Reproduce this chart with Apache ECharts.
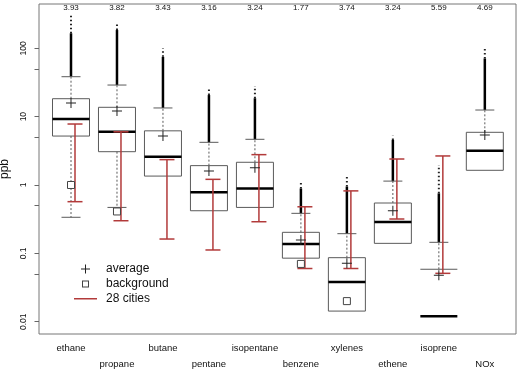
<!DOCTYPE html>
<html>
<head>
<meta charset="utf-8">
<script src="https://cdn.jsdelivr.net/npm/echarts@6/dist/echarts.min.js"></script>
<style>
  html, body { margin: 0; padding: 0; background: #fff; }
  #chart { width: 520px; height: 374px; }
</style>
</head>
<body>
<div id="chart"></div>
<script>
// species along the x axis
var categories = ['ethane', 'propane', 'butane', 'pentane', 'isopentane', 'benzene', 'xylenes', 'ethene', 'isoprene', 'NOx'];
// numbers printed along the top of the plot
var topValues = ['3.93', '3.82', '3.43', '3.16', '3.24', '1.77', '3.74', '3.24', '5.59', '4.69'];

// box statistics (ppb)
var q1 = [5.2, 3.07, 1.35, 0.42, 0.47, 0.085, 0.0143, 0.14, 0.012, 1.64];
var median = [9.2, 6.0, 2.6, 0.78, 0.89, 0.137, 0.038, 0.287, 0.012, 3.18];
var q3 = [18.3, 13.7, 6.2, 1.92, 2.15, 0.203, 0.0864, 0.545, 0.0585, 5.9];
var lowerWhisker = [0.337, 0.47, 1.35, 0.42, 0.47, 0.085, 0.0143, 0.14, 0.012, 1.64];
var upperWhisker = [38.4, 29.0, 13.4, 4.21, 4.66, 0.385, 0.194, 1.14, 0.145, 12.5];
// outliers: dense run up to outlierDense, scattered points up to outlierMax
var outlierDense = [166, 185, 75, 20.7, 18.6, 0.89, 0.95, 4.55, 0.755, 71];
var outlierMax = [307, 237, 100, 26, 28.1, 1.12, 1.37, 5.26, 1.96, 100];

var average = [15.8, 12.1, 5.2, 1.6, 1.79, 0.157, 0.0715, 0.42, 0.0477, 5.39];
var background = [1.0, 0.41, null, null, null, 0.070, 0.020, null, null, null];
// range over the 28 cities
var citiesHigh = [7.8, 6.0, 2.35, 1.21, 2.78, 0.48, 0.82, 2.40, 2.66, null];
var citiesLow = [0.57, 0.30, 0.162, 0.112, 0.29, 0.060, 0.060, 0.318, 0.051, null];

// y axis ticks (log scale)
var yLabelValues = [0.01, 0.1, 1, 10, 100];
var yTickValues = [0.01, 0.05, 0.1, 0.5, 1, 5, 10, 50, 100];

var lg = function (v) { return Math.log(v) / Math.LN10; };
var positions = categories.map(function (c, i) { return i + 1; });

var boxData = categories.map(function (c, i) {
    return [i + 1, lg(q1[i]), lg(median[i]), lg(q3[i]), lg(lowerWhisker[i]),
        lg(upperWhisker[i]), lg(outlierDense[i]), lg(outlierMax[i])];
});
var cityData = [];
var avgData = [];
var bgData = [];
categories.forEach(function (c, i) {
    if (citiesHigh[i] != null) cityData.push([i + 1, lg(citiesHigh[i]), lg(citiesLow[i])]);
    avgData.push([i + 1, lg(average[i])]);
    if (background[i] != null) bgData.push([i + 1, lg(background[i])]);
});

var red = '#b23a3a';
var gray = '#5a5a5a';

function renderBox(params, api) {
    var x = api.value(0);
    var pQ1 = api.coord([x, api.value(1)]);
    var pMed = api.coord([x, api.value(2)]);
    var pQ3 = api.coord([x, api.value(3)]);
    var pLw = api.coord([x, api.value(4)]);
    var pUw = api.coord([x, api.value(5)]);
    var pDense = api.coord([x, api.value(6)]);
    var pMax = api.coord([x, api.value(7)]);
    var cx = pMed[0];
    var hw = 18.5, cw = 9.5;
    var kids = [];
    function line(x1, y1, x2, y2, style) {
        kids.push({ type: 'line', shape: { x1: x1, y1: y1, x2: x2, y2: y2 }, style: style });
    }
    // outliers
    line(cx, pUw[1], cx, pDense[1], { stroke: '#000', lineWidth: 2.5 });
    line(cx, pDense[1], cx, pMax[1], { stroke: '#222', lineWidth: 2, lineDash: [1.5, 2.5] });
    // whiskers
    line(cx, pQ3[1], cx, pUw[1], { stroke: gray, lineWidth: 1, lineDash: [2, 2] });
    line(cx - cw, pUw[1], cx + cw, pUw[1], { stroke: gray, lineWidth: 1 });
    if (pLw[1] > pQ1[1] + 0.5) {
        line(cx, pQ1[1], cx, pLw[1], { stroke: gray, lineWidth: 1, lineDash: [2, 2] });
        line(cx - cw, pLw[1], cx + cw, pLw[1], { stroke: gray, lineWidth: 1 });
    }
    // box
    if (Math.abs(pQ1[1] - pMed[1]) < 0.5) {
        line(cx - hw, pQ3[1], cx + hw, pQ3[1], { stroke: gray, lineWidth: 1 });
    } else {
        kids.push({
            type: 'rect',
            shape: { x: cx - hw, y: pQ3[1], width: hw * 2, height: pQ1[1] - pQ3[1] },
            style: { fill: 'none', stroke: gray, lineWidth: 1 }
        });
    }
    line(cx - hw, pMed[1], cx + hw, pMed[1], { stroke: '#000', lineWidth: 2.5 });
    return { type: 'group', children: kids };
}

function renderCities(params, api) {
    var x = api.value(0);
    var pHi = api.coord([x, api.value(1)]);
    var pLo = api.coord([x, api.value(2)]);
    var cx = pHi[0] + 4;
    var cw = 7.5;
    var st = { stroke: red, lineWidth: 1.5 };
    return {
        type: 'group',
        children: [
            { type: 'line', shape: { x1: cx, y1: pHi[1], x2: cx, y2: pLo[1] }, style: st },
            { type: 'line', shape: { x1: cx - cw, y1: pHi[1], x2: cx + cw, y2: pHi[1] }, style: st },
            { type: 'line', shape: { x1: cx - cw, y1: pLo[1], x2: cx + cw, y2: pLo[1] }, style: st }
        ]
    };
}

var myChart = echarts.init(document.getElementById('chart'));
var option = {
    animation: false,
    textStyle: { fontFamily: 'Liberation Sans, Arial, sans-serif' },
    grid: {
        left: 39, right: 4, top: 4, bottom: 40,
        outerBoundsMode: 'none',
        containLabel: false,
        show: true, borderColor: '#777', borderWidth: 1
    },
    legend: {
        orient: 'vertical',
        left: 74,
        top: 263,
        padding: 0,
        itemWidth: 23,
        itemHeight: 11,
        itemGap: 3,
        textStyle: { fontSize: 12, color: '#111', padding: [0, 0, 0, 4] },
        data: [
            { name: 'average', icon: 'path://M0,0h.01v.01z M5,1h1v9h-1z M1,5h9v1h-9z M10.99,10.99h.01v.01z' },
            {
                name: 'background',
                icon: 'path://M0,0h.01v.01z M2,2h7v7h-7z M3,3v5h5v-5z M10.99,10.99h.01v.01z',
                itemStyle: { color: '#444', borderWidth: 0 }
            },
            { name: '28 cities', icon: 'path://M0,0h.01v.01z M0,4.5H23V6H0Z M22.99,10.99h.01v.01z' }
        ]
    },
    xAxis: [
        {
            type: 'value',
            min: 0.304,
            max: 10.678,
            position: 'bottom',
            axisLine: { show: false },
            axisTick: { show: false },
            splitLine: { show: false },
            axisLabel: {
                customValues: positions,
                fontSize: 9.5,
                lineHeight: 16,
                margin: 6,
                color: '#111',
                formatter: function (v) {
                    var i = Math.round(v) - 1;
                    return i % 2 ? '\n' + categories[i] : categories[i];
                }
            }
        },
        {
            type: 'value',
            min: 0.304,
            max: 10.678,
            position: 'top',
            axisLine: { show: false },
            axisTick: { show: false },
            splitLine: { show: false },
            axisLabel: {
                inside: true,
                customValues: positions,
                fontSize: 8,
                margin: 0,
                color: '#111',
                formatter: function (v) { return topValues[Math.round(v) - 1]; }
            }
        }
    ],
    yAxis: {
        type: 'value',
        min: -2.18,
        max: 2.648,
        name: 'ppb',
        nameLocation: 'middle',
        nameGap: 25,
        nameRotate: 90,
        nameTextStyle: { fontSize: 12, color: '#111' },
        axisLine: { show: false },
        splitLine: { show: false },
        axisTick: {
            customValues: yTickValues.map(lg),
            length: 4.5,
            lineStyle: { color: '#666' }
        },
        axisLabel: {
            customValues: yLabelValues.map(lg),
            rotate: 90,
            fontSize: 8.5,
            margin: 11,
            color: '#111',
            formatter: function (v) { return String(parseFloat(Math.pow(10, v).toPrecision(3))); }
        }
    },
    series: [
        {
            name: 'box',
            type: 'custom',
            renderItem: renderBox,
            data: boxData,
            z: 2
        },
        {
            name: '28 cities',
            type: 'custom',
            renderItem: renderCities,
            itemStyle: { color: red },
            data: cityData,
            z: 3
        },
        {
            name: 'average',
            type: 'scatter',
            symbol: 'path://M4.5,0h1v10h-1z M0,4.5h10v1h-10z',
            symbolSize: 10,
            itemStyle: { color: '#222', opacity: 1 },
            data: avgData,
            z: 4
        },
        {
            name: 'background',
            type: 'scatter',
            symbol: 'rect',
            symbolSize: 7,
            itemStyle: { color: '#fff', borderColor: '#444', borderWidth: 1, opacity: 1 },
            data: bgData,
            z: 4
        }
    ]
};
myChart.setOption(option);
</script>
</body>
</html>
